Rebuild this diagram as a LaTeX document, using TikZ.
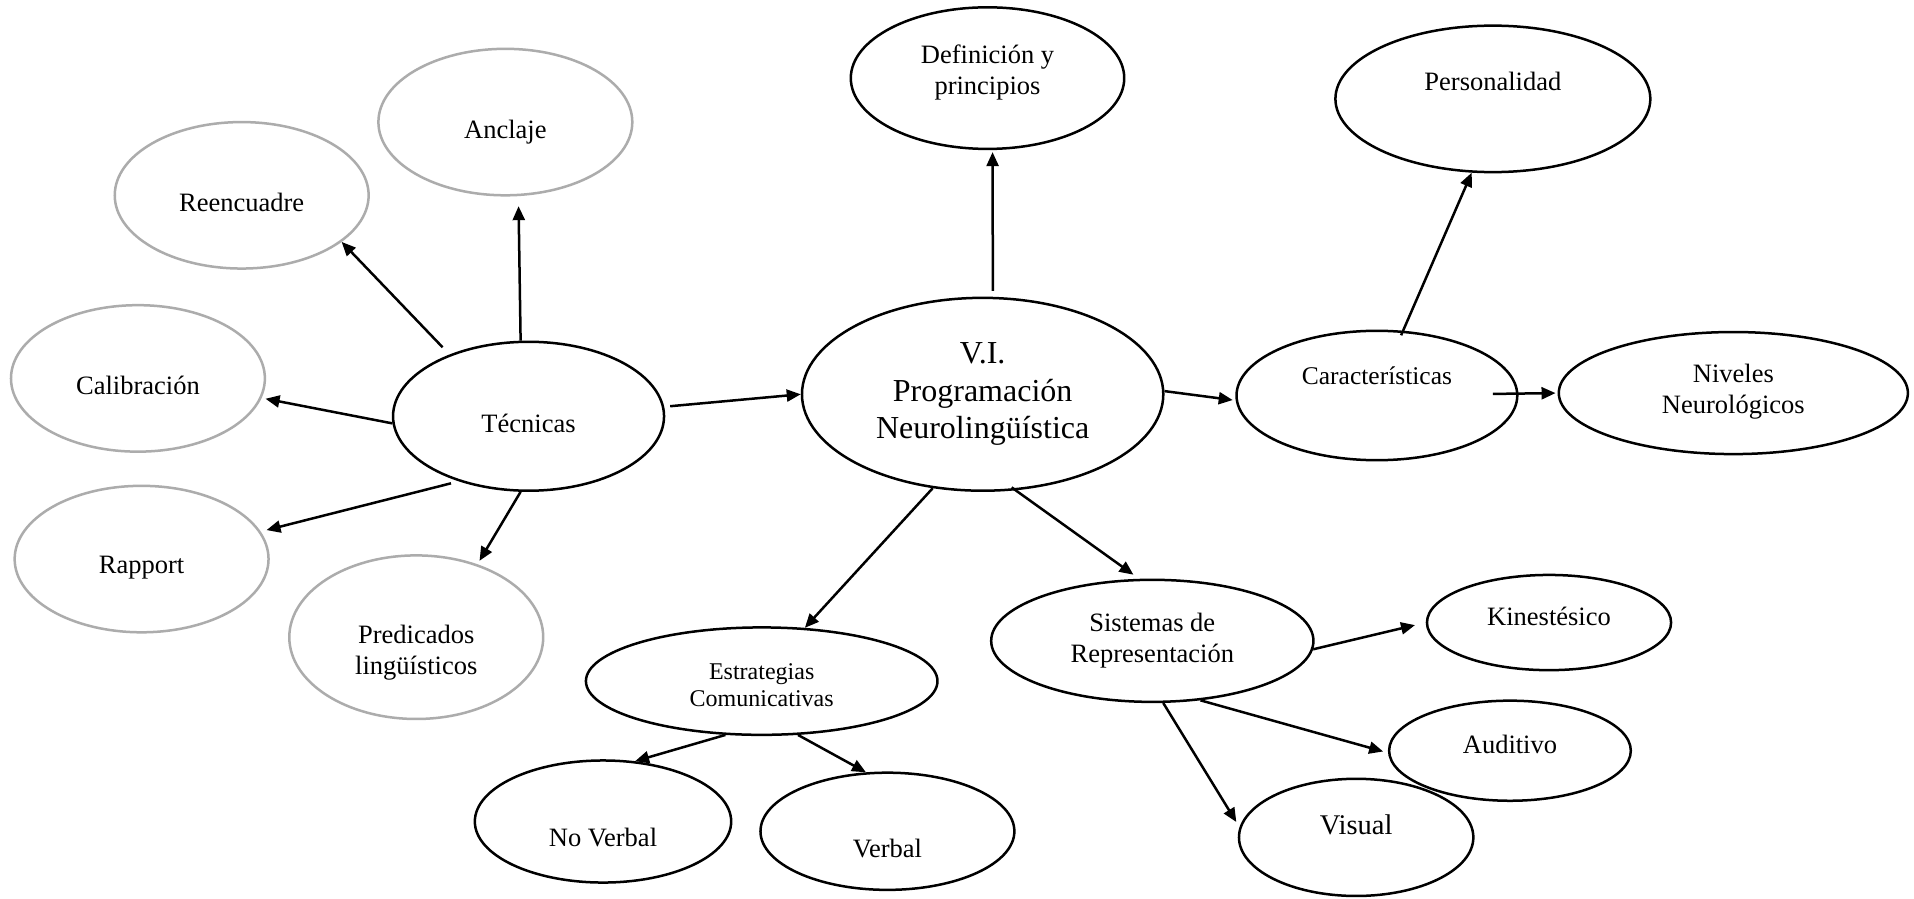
\documentclass[tikz,border=0pt]{standalone}
\usepackage{fontspec}
\setmainfont{Liberation Serif}
\usetikzlibrary{shapes.geometric,arrows.meta}
\newcommand\szN{\fontsize{26.5}{31}\selectfont}
\newcommand\szC{\fontsize{32}{37.5}\selectfont}
\newcommand\szS{\fontsize{24}{27}\selectfont}
\newcommand\szK{\fontsize{25.5}{30}\selectfont}
\newcommand\szV{\fontsize{28.5}{33}\selectfont}
\tikzset{
  bub/.style={ellipse, draw=black, line width=2.5pt, inner sep=0pt, fill=white},
  gbub/.style={bub, draw=gray!65},
  rad/.style 2 args={minimum width=#1*2.4414pt, minimum height=#2*2.4414pt},
  txt/.style={font=\szN, align=center, inner sep=0pt, text=black},
  arr/.style={-{Triangle[length=14pt,width=12pt]}, line width=2.5pt},
}
\begin{document}
\begin{tikzpicture}[x=1.2207pt, y=-1.2207pt]
\useasboundingbox[fill=white] (0,0) rectangle (1568,736);

% technique bubbles (grey outline)
\node[gbub, rad={104}{60}] (anc) at (414,100) {};
\node[gbub, rad={104}{60}] (ree) at (198,160) {};
\node[gbub, rad={104}{60}] (cal) at (113,310) {};
\node[gbub, rad={104}{60}] (rap) at (116,458) {};
\node[gbub, rad={104}{67}] (pre) at (341,522) {};

% main bubbles
\node[bub, rad={111}{61}] (tec) at (433,341) {};
\node[bub, rad={148}{79}] (cen) at (805,323) {};
\node[bub, rad={112}{58}] (def) at (809,64) {};
\node[bub, rad={129}{60}] (per) at (1223,81) {};
\node[bub, rad={115}{53}] (car) at (1128,324) {};
\node[bub, rad={143}{50}] (niv) at (1420,322) {};
\node[bub, rad={132}{50}] (sis) at (944,525) {};
\node[bub, rad={100}{39}] (kin) at (1269,510) {};
\node[bub, rad={99}{41}]  (aud) at (1237,615) {};
\node[bub, rad={96}{48}]  (vis) at (1111,686) {};
\node[bub, rad={144}{44}] (est) at (624,558) {};
\node[bub, rad={105}{50}] (nov) at (494,673) {};
\node[bub, rad={104}{48}] (ver) at (727,681) {};

% bubble texts
\node[txt] (anc-t) at (414,108) {Anclaje};
\node[txt] (ree-t) at (198,166) {Reencuadre};
\node[txt] (cal-t) at (113,316) {Calibración};
\node[txt] (rap-t) at (116,465) {Rapport};
\node[txt] (pre-t) at (341,535) {Predicados\\lingüísticos};
\node[txt] (tec-t) at (433,347) {Técnicas};
\node[txt, font=\szC] (cen-t) at (805,323) {V.I.\\Programación\\Neurolingüística};
\node[txt] (def-t) at (809,59) {Definición y\\principios};
\node[txt] (per-t) at (1223,67) {Personalidad};
\node[txt, font=\szK] (car-t) at (1128,308) {Características};
\node[txt] (niv-t) at (1420,321) {Niveles\\Neurológicos};
\node[txt] (sis-t) at (944,525) {Sistemas de\\Representación};
\node[txt] (kin-t) at (1269,505) {Kinestésico};
\node[txt] (aud-t) at (1237,610) {Auditivo};
\node[txt, font=\szV] (vis-t) at (1111,676) {Visual};
\node[txt, font=\szS] (est-t) at (624,561) {Estrategias\\Comunicativas};
\node[txt] (nov-t) at (494,686) {No Verbal};
\node[txt] (ver-t) at (727,695) {Verbal};

% connectors from Técnicas
\draw[arr, shorten >=10pt] (tec.96) -- (anc.-80);
\draw[arr, shorten <=10pt] (tec.142) -- (ree.-25);
\draw[arr, shorten >=4pt] (tec.183) -- (cal.-9);
\draw[arr, shorten <=8pt, shorten >=6pt] (tec.223) -- (rap.13);
\draw[arr, shorten >=4pt] (tec.264) -- (pre.50);
\draw[arr, shorten <=6pt] (tec.4) -- (cen.180);

% connectors from the central bubble
\draw[arr, shorten <=6pt, shorten >=2pt] (cen.84) -- (def.-86);
\draw[arr, shorten >=3pt] (cen.1) -- (car.182);
\draw[arr, shorten <=-5pt, shorten >=7pt] (cen.289) -- (sis.102);
\draw[arr] (cen.242) -- (est.51);

% Características
\draw[arr, shorten <=-5pt] (car.68) -- (per.254);
\draw[arr, shorten <=116pt, shorten >=2pt] (car.center) -- (niv.west);

% Sistemas de Representación
\draw[arr, shorten >=11pt] (sis.-3) -- (kin.180);
\draw[arr, shorten >=5pt] (sis.-51) -- (aud.181);
\draw[arr, shorten >=6pt] (sis.-80) -- (vis.175);

% Estrategias Comunicativas
\draw[arr] (est.236) -- (nov.62);
\draw[arr] (est.-56) -- (ver.110);
\end{tikzpicture}
\end{document}
